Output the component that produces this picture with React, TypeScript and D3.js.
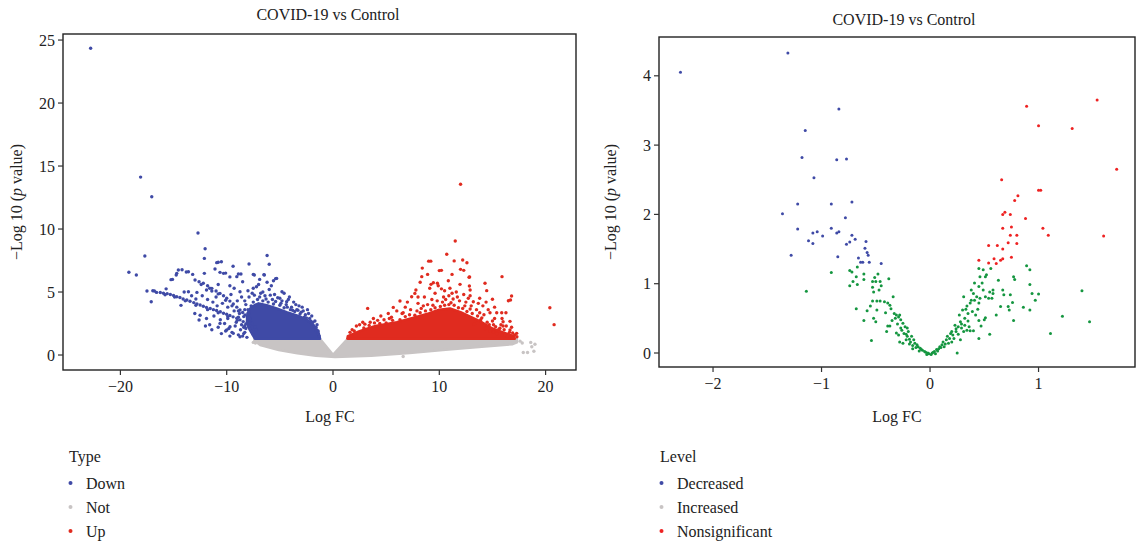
import React from "react";
import * as d3 from "d3";

// ---------------- DATA ----------------
const titleText = "COVID-19 vs Control";

// Left panel: type groups
const leftLegendTitle = "Type";
const leftLegendLabels = ["Down", "Not", "Up"];
const leftXTicks = [-20, -10, 0, 10, 20];
const leftYTicks = [0, 5, 10, 15, 20, 25];

// dense cores (boundary, where points merge into a solid mass)
const notCore: [number, number][] = [
  [-7.4, 1.3], [-1.25, 1.3], [0, 0.02], [1.4, 1.3], [17.3, 1.3], [17.3, 1.0], [16.9, 0.86],
  [14.0, 0.66], [10.6, 0.42], [7.2, 0.16], [3.6, -0.05], [0.2, -0.16], [-1.6, -0.05],
  [-3.35, 0.13], [-5.1, 0.4], [-6.85, 0.8], [-7.4, 1.15],
];
const downCore: [number, number][] = [
  [-7.35, 1.3], [-1.22, 1.3], [-1.38, 1.85], [-1.85, 2.4], [-2.47, 2.8], [-3.26, 3.1],
  [-4.36, 3.4], [-5.3, 3.7], [-6.24, 3.95], [-7.0, 4.1], [-7.7, 3.8], [-8.05, 3.3],
  [-8.1, 2.6], [-7.8, 1.95],
];
const upCore: [number, number][] = [
  [1.35, 1.3], [17.1, 1.3], [17.0, 1.5], [16.0, 1.8], [15.0, 2.1], [14.0, 2.6],
  [13.0, 3.0], [12.0, 3.4], [11.0, 3.7], [10.0, 3.6], [9.0, 3.3], [7.5, 2.95],
  [6.0, 2.6], [4.0, 2.3], [2.5, 1.9], [1.4, 1.5],
];

const downPoints: [number, number][] = [
  [-22.8, 24.35], [-18.1, 14.12], [-17.05, 12.56], [-17.7, 7.86], [-12.7, 9.68], [-12.03, 8.44],
  [-12.1, 7.67], [-6.2, 7.9], [-6.0, 7.2], [-19.2, 6.57], [-18.5, 6.35], [-10.94, 7.33],
  [-10.5, 7.4], [-10.8, 7.36], [-9.4, 7.05], [-7.9, 7.22], [-14.55, 6.75], [-14.2, 6.77],
  [-14.7, 6.48], [-15.24, 5.98], [-13.6, 6.61], [-13.2, 6.4], [-12.1, 6.48], [-11.1, 6.83],
  [-10.63, 6.56], [-10.3, 6.48], [-8.9, 6.43], [-7.5, 6.4], [-6.5, 6.38], [-5.4, 6.06],
  [-6.2, 5.77], [-8.5, 5.82], [-7.2, 5.42], [-9.7, 5.5], [-8.75, 5.02], [-4.8, 5.02],
  [-5.0, 4.5], [-4.36, 4.23], [-17.5, 5.08], [-17.1, 4.23], [-14.3, 3.94], [-12.5, 3.15],
  [-12.6, 2.78], [-13.6, 5.02], [-12.8, 4.97], [-11.9, 5.16], [-11.4, 5.08], [-15.1, 6.0],
  [-13.8, 6.59], [-9.05, 6.22], [-8.66, 6.43], [-9.7, 6.2], [-5.3, 6.08], [-10.1, 6.5],
  [-7.4, 6.35], [-6.46, 6.35], [-14.75, 6.35],
  // long lower streak
  [-16.6, 4.97], [-16.25, 4.96], [-15.95, 4.9], [-15.6, 4.87], [-15.3, 4.8], [-15.0, 4.73],
  [-14.7, 4.63], [-14.4, 4.56], [-14.1, 4.45], [-13.75, 4.37], [-13.45, 4.27], [-13.1, 4.16],
  [-12.8, 4.06], [-12.5, 3.97], [-12.2, 3.87], [-11.9, 3.78], [-11.55, 3.69], [-11.25, 3.6],
  [-10.95, 3.53], [-10.6, 3.43], [-10.3, 3.32], [-10.0, 3.23], [-9.7, 3.13], [-9.4, 3.03],
  [-9.05, 2.92], [-8.75, 2.79], [-8.45, 2.65], [-8.2, 2.46], [-7.95, 2.26], [-7.8, 2.06],
  [-7.65, 1.86], [-7.5, 1.62], [-15.8, 4.78], [-14.9, 4.6], [-13.9, 4.3], [-12.9, 3.95],
  [-11.8, 3.6], [-10.8, 3.35], [-9.9, 3.05], [-9.0, 2.75], [-16.95, 5.1], [-16.8, 5.08],
  // upper streak
  [-12.98, 5.95], [-12.6, 5.82], [-12.2, 5.69], [-11.8, 5.5], [-11.4, 5.29], [-11.0, 5.08],
  [-10.63, 4.89], [-10.3, 4.7], [-10.0, 4.5], [-9.7, 4.28], [-9.38, 4.05], [-9.05, 3.8],
  [-8.75, 3.57], [-8.5, 3.37], [-8.28, 3.17], [-8.05, 2.98], [-7.81, 2.78], [-7.6, 2.5],
  [-7.34, 2.25], [-7.2, 2.0], [-12.4, 5.6], [-11.6, 5.3], [-10.8, 4.85], [-10.1, 4.35],
  [-9.5, 3.9], [-8.9, 3.5], [-8.4, 3.05],
  // cloud between / below the streaks
  [-10.2, 2.5], [-9.8, 2.1], [-9.5, 1.8], [-9.2, 2.3], [-8.9, 1.6], [-8.7, 2.0], [-8.5, 1.5],
  [-8.3, 1.8], [-8.1, 1.4], [-9.9, 2.9], [-10.6, 2.8], [-11.2, 3.1], [-11.6, 2.4], [-10.8, 2.2],
  [-9.3, 3.5], [-9.0, 4.3], [-8.6, 4.6], [-8.2, 4.0], [-9.6, 4.8], [-10.4, 4.1], [-11.0, 4.6],
  [-11.8, 4.4], [-12.3, 4.7], [-10.8, 5.6], [-9.3, 5.3], [-8.0, 5.1], [-7.6, 4.9], [-8.9, 3.0],
  [-8.6, 2.4], [-7.9, 3.3], [-7.7, 3.9], [-10.1, 1.9], [-9.7, 1.5], [-11.4, 2.0], [-12.0, 2.3],
  [-10.5, 1.7], [-10.63, 2.51], [-10.0, 1.98], [-9.38, 1.72], [-8.75, 1.45], [-9.69, 2.25],
  [-8.4, 2.2], [-9.1, 2.6], [-8.8, 3.3], [-8.3, 3.6], [-9.9, 3.8], [-10.9, 3.9], [-11.3, 4.2],
  [-12.9, 4.45], [-13.3, 4.7], [-14.0, 5.0], [-15.7, 5.25], [-13.0, 3.3], [-11.9, 2.9],
  // speckle above the dense core
  [-1.3, 1.5], [-1.4, 1.9], [-1.6, 2.2], [-1.9, 2.6], [-2.2, 2.9], [-2.6, 3.2], [-3.0, 3.4],
  [-3.4, 3.6], [-3.9, 3.8], [-4.4, 4.0], [-2.0, 3.1], [-2.8, 3.5], [-3.2, 3.9], [-3.7, 4.2],
  [-4.1, 4.6], [-5.5, 4.8], [-6.0, 5.2], [-6.6, 5.0], [-7.0, 5.6], [-5.8, 5.5], [-4.6, 4.9],
  [-6.4, 4.7], [-2.4, 3.6], [-1.7, 2.7], [-1.5, 2.4], [-2.3, 3.3], [-3.5, 4.0], [-4.8, 4.3],
  [-5.2, 4.55], [-5.9, 4.75], [-6.8, 4.9], [-7.4, 4.75], [-7.9, 4.6], [-8.3, 4.3],
  [-8.4, 1.7], [-8.3, 2.3], [-7.5, 5.3], [-6.9, 6.0], [-5.6, 5.9], [-4.2, 4.4], [-2.9, 3.8],
  [-2.1, 2.7], [-2.7, 3.0], [-3.1, 3.25], [-3.6, 3.45], [-4.0, 3.6], [-4.6, 3.75], [-5.0, 3.95],
  [-5.6, 4.05], [-6.1, 4.2], [-6.6, 4.3], [-7.1, 4.4], [-7.5, 4.2], [-1.6, 1.95], [-2.5, 2.95],
  [-3.8, 3.55], [-4.9, 4.1], [-5.4, 4.25], [-6.3, 4.45], [-7.3, 3.95], [-6.9, 4.6], [-5.7, 4.4],
  [-4.3, 3.8], [-3.3, 3.55], [-2.0, 2.45], [-1.45, 1.7], [-8.0, 3.6], [-7.85, 2.9], [-8.2, 2.1],
];

const notPoints: [number, number][] = [
  [18.9, 0.3], [18.7, 0.65], [18.3, 0.2], [17.9, 0.2], [19.0, 0.85], [6.6, -0.12],
  [-7.5, 1.0], [-7.3, 0.95], [18.6, 1.0], [17.6, 1.1], [17.8, 0.95],
];

const upPoints: [number, number][] = [
  [12.0, 13.55], [11.5, 9.05], [10.7, 8.0], [9.0, 7.45], [9.2, 7.45], [11.4, 7.47], [12.2, 7.54],
  [12.6, 7.32], [10.0, 6.7], [11.2, 6.4], [12.0, 6.8], [12.3, 6.72], [12.85, 6.2], [15.9, 6.22],
  [8.9, 6.4], [8.35, 6.22], [8.2, 5.77], [9.44, 5.74], [9.82, 5.69], [9.22, 5.61], [10.85, 5.9],
  [11.95, 5.61], [12.83, 5.48], [12.9, 5.16], [14.3, 5.69], [14.46, 5.11], [15.0, 4.42],
  [16.8, 4.68], [16.7, 4.37], [16.5, 4.31], [7.8, 5.16], [7.7, 4.89], [7.4, 4.63], [6.3, 4.29],
  [5.67, 3.78], [3.26, 3.7], [14.77, 3.36], [15.4, 3.36], [15.87, 3.36], [16.27, 3.36],
  [16.0, 2.64], [16.65, 2.67], [15.7, 2.12], [16.65, 1.98], [17.28, 1.72], [17.3, 1.45],
  [20.8, 2.41], [20.4, 3.75], [13.67, 4.1], [13.2, 4.23], [12.73, 4.5], [10.5, 5.1], [11.0, 5.3],
  [11.6, 5.0], [10.2, 5.25], [8.6, 4.6], [9.6, 4.9], [10.9, 4.7], [12.3, 4.8], [13.8, 4.5],
  [14.1, 3.9], [11.7, 4.6], [7.0, 4.2], [6.8, 3.8], [5.2, 3.3], [4.5, 3.1], [3.8, 2.9],
  [2.8, 2.6], [2.2, 2.3], [1.8, 2.0], [6.0, 3.5], [8.0, 4.1], [9.3, 4.4], [13.0, 3.9],
  [14.6, 3.6], [15.2, 2.9], [16.3, 2.3], [14.4, 4.2], [15.2, 3.8], [8.4, 6.9], [10.2, 6.72],
  [12.8, 6.17], [9.1, 5.3], [10.4, 4.6], [11.3, 4.45], [12.5, 4.2], [8.9, 4.0], [7.3, 3.6],
  [6.5, 3.3], [5.5, 3.0], [4.8, 2.8], [3.5, 2.6], [2.5, 2.4], [1.6, 1.8], [13.5, 3.6],
  [14.2, 3.2], [15.0, 2.7], [15.8, 2.4], [16.6, 1.8], [17.0, 1.5], [16.2, 1.6], [15.4, 1.7],
  [14.8, 1.9], [15.9, 2.9], [13.9, 2.8], [11.9, 4.3], [10.6, 4.4], [9.8, 4.3], [8.5, 3.9],
  [7.9, 3.5], [4.2, 2.75], [3.0, 2.45], [11.2, 4.9], [12.9, 4.7], [9.9, 5.5], [8.0, 4.6],
  // speckle at the top of the dense core
  [2.0, 1.9], [2.9, 2.15], [3.4, 2.35], [4.4, 2.5], [5.0, 2.55], [5.6, 2.75], [6.3, 2.8],
  [6.8, 3.05], [7.2, 3.2], [7.7, 3.15], [8.2, 3.35], [8.7, 3.5], [9.2, 3.6], [9.6, 3.75],
  [10.1, 3.85], [10.5, 3.95], [10.9, 4.0], [11.4, 3.95], [11.8, 3.75], [12.2, 3.7], [12.6, 3.45],
  [13.1, 3.3], [13.6, 3.1], [14.0, 2.95], [14.5, 2.6], [15.1, 2.4], [15.6, 2.05], [16.1, 2.0],
  [16.9, 1.75], [12.4, 3.9], [11.1, 4.15], [10.3, 4.2], [9.4, 3.95], [8.3, 3.7], [6.6, 3.35],
  [5.3, 2.9], [3.9, 2.55], [16.4, 1.5], [15.9, 1.6], [15.1, 1.85], [14.3, 2.1], [13.3, 2.45],
  [17.1, 1.6], [16.8, 2.2], [16.0, 2.3], [15.3, 2.25], [14.7, 2.4], [13.8, 3.35], [12.9, 3.65],
];

// Right panel
const rightLegendTitle = "Level";
const rightLegendLabels = ["Decreased", "Increased", "Nonsignificant"];
const rightXTicks = [-2, -1, 0, 1];
const rightYTicks = [0, 1, 2, 3, 4];

const decreasedPoints: [number, number][] = [
  [-2.3, 4.05], [-1.31, 4.33], [-0.84, 3.52], [-1.15, 3.21], [-1.18, 2.82], [-0.86, 2.79],
  [-0.77, 2.8], [-1.07, 2.53], [-1.22, 2.15], [-0.91, 2.15], [-0.72, 2.18], [-1.36, 2.01],
  [-0.78, 1.95], [-1.22, 1.79], [-1.08, 1.73], [-1.04, 1.75], [-0.99, 1.69], [-0.91, 1.8],
  [-0.86, 1.73], [-0.84, 1.75], [-0.72, 1.7], [-1.12, 1.62], [-1.08, 1.58], [-0.77, 1.57],
  [-0.74, 1.6], [-0.69, 1.64], [-0.59, 1.61], [-0.6, 1.51], [-0.58, 1.45], [-0.57, 1.41],
  [-1.28, 1.41], [-0.85, 1.39], [-0.66, 1.37], [-0.64, 1.31], [-0.62, 1.31], [-0.56, 1.31],
  [-0.45, 1.29],
];
const nonsigPoints: [number, number][] = [
  [0.89, 3.56], [1.54, 3.65], [1.0, 3.28], [1.31, 3.24], [1.72, 2.65], [0.66, 2.5], [1.0, 2.35],
  [1.02, 2.35], [0.81, 2.27], [0.78, 2.2], [0.67, 2.0], [0.69, 2.03], [0.74, 2.0], [0.88, 1.94],
  [0.67, 1.8], [0.75, 1.82], [1.04, 1.8], [1.09, 1.7], [1.6, 1.69], [0.74, 1.7], [0.8, 1.7],
  [0.54, 1.55], [0.62, 1.55], [0.72, 1.59], [0.8, 1.58], [0.67, 1.5], [0.45, 1.34], [0.54, 1.3],
  [0.59, 1.36], [0.61, 1.29], [0.65, 1.34], [0.67, 1.36], [0.75, 1.38],
];
const greenPoints: [number, number][] = [
  [-0.91, 1.16], [-1.14, 0.89], [-0.74, 1.19], [-0.72, 1.17], [-0.67, 1.24], [-0.68, 1.1],
  [-0.71, 1.03], [-0.74, 0.97], [-0.67, 0.99], [-0.61, 1.14], [-0.61, 1.06], [-0.53, 1.03],
  [-0.5, 1.03], [-0.48, 1.14], [-0.51, 1.09], [-0.38, 1.07], [-0.46, 1.03], [-0.45, 0.97],
  [-0.53, 0.95], [-0.47, 0.91], [-0.52, 0.88], [-0.34, 0.81], [-0.53, 0.75], [-0.49, 0.75],
  [-0.46, 0.75], [-0.42, 0.74], [-0.39, 0.72], [-0.37, 0.69], [-0.36, 0.64], [-0.55, 0.68],
  [-0.58, 0.61], [-0.49, 0.62], [-0.68, 0.64], [-0.61, 0.47], [-0.52, 0.5], [-0.5, 0.45],
  [-0.54, 0.18], [-0.33, 0.57], [-0.31, 0.55], [-0.29, 0.52], [-0.28, 0.55], [-0.32, 0.5],
  [-0.27, 0.48], [-0.39, 0.39], [-0.37, 0.39], [-0.4, 0.31], [-0.25, 0.43], [-0.23, 0.38],
  [-0.26, 0.33], [-0.21, 0.36], [-0.29, 0.26], [-0.24, 0.28], [-0.2, 0.31], [-0.21, 0.24],
  [-0.17, 0.24], [-0.28, 0.16], [-0.25, 0.14], [-0.18, 0.16], [-0.15, 0.19], [-0.14, 0.14],
  [-0.12, 0.12], [-0.11, 0.09], [-0.09, 0.07], [-0.07, 0.04], [-0.05, 0.02], [-0.02, 0.0],
  [-0.01, -0.01], [0.02, 0.0], [0.04, 0.02], [0.06, 0.05], [0.09, 0.09], [0.11, 0.12],
  [0.12, 0.16], [0.15, 0.19], [0.18, 0.21], [0.17, 0.14], [0.2, 0.16], [0.21, 0.26],
  [0.24, 0.31], [0.2, 0.31], [0.25, 0.0], [0.26, 0.38], [0.23, 0.4], [0.28, 0.45], [0.29, 0.36],
  [0.32, 0.4], [0.31, 0.31], [0.34, 0.33], [0.37, 0.32], [0.4, 0.32], [0.28, 0.19],
  [0.32, 0.5], [0.27, 0.55], [0.3, 0.62], [0.33, 0.63], [0.35, 0.57], [0.37, 0.72], [0.31, 0.81],
  [0.38, 0.76], [0.4, 0.86], [0.41, 0.76], [0.43, 0.81], [0.45, 0.72], [0.46, 0.79], [0.38, 0.91],
  [0.41, 1.01], [0.45, 0.96], [0.46, 1.1], [0.45, 1.22], [0.49, 1.2], [0.51, 1.1], [0.52, 1.13],
  [0.48, 1.01], [0.49, 0.91], [0.51, 0.81], [0.54, 0.79], [0.57, 0.79], [0.55, 0.88],
  [0.58, 0.91], [0.58, 0.86], [0.56, 1.22], [0.63, 1.05], [0.67, 0.91], [0.68, 0.84],
  [0.74, 0.84], [0.65, 0.67], [0.72, 0.67], [0.73, 0.62], [0.76, 0.73], [0.61, 0.55],
  [0.77, 0.47], [0.77, 1.1], [0.78, 1.06], [0.51, 0.51], [0.5, 0.48], [0.45, 0.47], [0.47, 0.39],
  [0.55, 0.27], [0.45, 0.21], [0.89, 1.26], [0.92, 1.2], [0.92, 0.99], [0.94, 0.86], [1.0, 0.85],
  [0.97, 0.76], [0.86, 0.66], [0.92, 0.62], [1.11, 0.28], [1.22, 0.53], [1.4, 0.9], [1.47, 0.45],
  [-0.08, 0.05], [-0.04, 0.01], [0.01, -0.02], [0.03, 0.01], [0.08, 0.06], [0.1, 0.08],
  [0.14, 0.13], [0.16, 0.24], [0.19, 0.28], [0.22, 0.21], [0.13, 0.09], [-0.13, 0.08],
  [-0.16, 0.11], [-0.19, 0.2], [-0.22, 0.27], [-0.1, 0.03], [-0.03, -0.02], [0.05, -0.01],
  [0.07, 0.03], [0.24, 0.35], [0.26, 0.27], [0.29, 0.42], [0.35, 0.46], [0.36, 0.38],
  [0.42, 0.55], [0.39, 0.6], [0.34, 0.68], [0.44, 0.63], [-0.3, 0.42], [-0.27, 0.36],
  [-0.31, 0.29], [-0.22, 0.19], [-0.19, 0.13], [-0.16, 0.06], [-0.35, 0.47], [-0.41, 0.58],
];

// ---------------- STYLE ----------------
const FONT = "'Liberation Serif', 'DejaVu Serif', serif";
const FS = 16;
const BLUE = "#3f4aa6";
const GRAY = "#c8c4c4";
const RED = "#e02b1f";
const RED2 = "#ee2222";
const GREEN = "#159640";

const minus = (v: number) => (v < 0 ? "\u2212" + Math.abs(v) : String(v));

type Group = { pts: [number, number][]; color: string; core?: [number, number][] };

function Panel(props: {
  box: { x0: number; x1: number; y0: number; y1: number };
  xDomain: [number, number];
  yDomain: [number, number];
  xTicks: number[];
  yTicks: number[];
  groups: Group[];
  r: number;
  title: { x: number; y: number };
  xTitle: { x: number; y: number };
  yTitle: { x: number; y: number };
}) {
  const { box, groups } = props;
  const xs = d3.scaleLinear().domain(props.xDomain).range([box.x0, box.x1]);
  const ys = d3.scaleLinear().domain(props.yDomain).range([box.y1, box.y0]);
  const line = d3
    .line<[number, number]>()
    .x((d) => xs(d[0]))
    .y((d) => ys(d[1]))
    .curve(d3.curveLinearClosed);
  const clipId = `clip-${box.x0}`;
  return (
    <g>
      <defs>
        <clipPath id={clipId}>
          <rect x={box.x0} y={box.y0} width={box.x1 - box.x0} height={box.y1 - box.y0} />
        </clipPath>
      </defs>
      <g clipPath={`url(#${clipId})`}>
        {groups.map((g, gi) => (
          <g key={gi}>
            {g.core && (
              <path d={line(g.core) || ""} fill={g.color} stroke={g.color} strokeWidth={2.5} strokeLinejoin="round" />
            )}
            {g.pts.map((p, i) => (
              <circle key={i} cx={xs(p[0])} cy={ys(p[1])} r={props.r} fill={g.color} />
            ))}
          </g>
        ))}
      </g>
      <rect
        x={box.x0}
        y={box.y0}
        width={box.x1 - box.x0}
        height={box.y1 - box.y0}
        fill="none"
        stroke="#222"
        strokeWidth={1.4}
      />
      {props.xTicks.map((t) => (
        <g key={"x" + t}>
          <line x1={xs(t)} x2={xs(t)} y1={box.y1} y2={box.y1 + 5} stroke="#333" strokeWidth={1.2} />
          <text x={xs(t)} y={box.y1 + 22} textAnchor="middle" fontSize={FS} fill="#222" fontFamily={FONT}>
            {minus(t)}
          </text>
        </g>
      ))}
      {props.yTicks.map((t) => (
        <g key={"y" + t}>
          <line x1={box.x0 - 5} x2={box.x0} y1={ys(t)} y2={ys(t)} stroke="#333" strokeWidth={1.2} />
          <text x={box.x0 - 8} y={ys(t) + 5.5} textAnchor="end" fontSize={FS} fill="#222" fontFamily={FONT}>
            {minus(t)}
          </text>
        </g>
      ))}
      <text x={props.title.x} y={props.title.y} textAnchor="middle" fontSize={FS} fill="#222" fontFamily={FONT}>
        {titleText}
      </text>
      <text x={props.xTitle.x} y={props.xTitle.y} textAnchor="middle" fontSize={FS} fill="#222" fontFamily={FONT}>
        Log FC
      </text>
      <text
        transform={`translate(${props.yTitle.x},${props.yTitle.y}) rotate(-90)`}
        textAnchor="middle"
        fontSize={FS}
        fill="#222"
        fontFamily={FONT}
      >
        {"\u2212Log 10 ("}
        <tspan fontStyle="italic">p</tspan>
        {" value)"}
      </text>
    </g>
  );
}

function Legend(props: { x: number; y: number; title: string; labels: string[]; colors: string[] }) {
  return (
    <g fontFamily={FONT} fontSize={FS} fill="#222">
      <text x={props.x} y={props.y}>
        {props.title}
      </text>
      {props.labels.map((l, i) => (
        <g key={l}>
          <circle cx={props.x + 1.5} cy={props.y + 21 + i * 24} r={2} fill={props.colors[i]} />
          <text x={props.x + 17} y={props.y + 26.5 + i * 24}>
            {l}
          </text>
        </g>
      ))}
    </g>
  );
}

export default function App() {
  return (
    <svg
      width={1143}
      height={546}
      style={{ position: "absolute", left: 0, top: 0, background: "#fff" }}
    >
      <rect width={1143} height={546} fill="#fff" />
      <Panel
        box={{ x0: 63, x1: 576, y0: 34, y1: 370 }}
        xDomain={[-25.4, 22.86]}
        yDomain={[-1.19, 25.48]}
        xTicks={leftXTicks}
        yTicks={leftYTicks}
        groups={[
          { pts: notPoints, color: GRAY, core: notCore },
          { pts: downPoints, color: BLUE, core: downCore },
          { pts: upPoints, color: RED, core: upCore },
        ]}
        r={1.7}
        title={{ x: 328, y: 20 }}
        xTitle={{ x: 330, y: 422 }}
        yTitle={{ x: 22, y: 202 }}
      />
      <Panel
        box={{ x0: 659, x1: 1135, y0: 37, y1: 367 }}
        xDomain={[-2.498, 1.889]}
        yDomain={[-0.202, 4.56]}
        xTicks={rightXTicks}
        yTicks={rightYTicks}
        groups={[
          { pts: greenPoints, color: GREEN },
          { pts: decreasedPoints, color: BLUE },
          { pts: nonsigPoints, color: RED2 },
        ]}
        r={1.5}
        title={{ x: 904, y: 25 }}
        xTitle={{ x: 897, y: 422 }}
        yTitle={{ x: 616, y: 202 }}
      />
      <Legend x={69} y={462} title={leftLegendTitle} labels={leftLegendLabels} colors={[BLUE, GRAY, RED]} />
      <Legend x={660} y={462} title={rightLegendTitle} labels={rightLegendLabels} colors={[BLUE, GRAY, RED2]} />
    </svg>
  );
}
